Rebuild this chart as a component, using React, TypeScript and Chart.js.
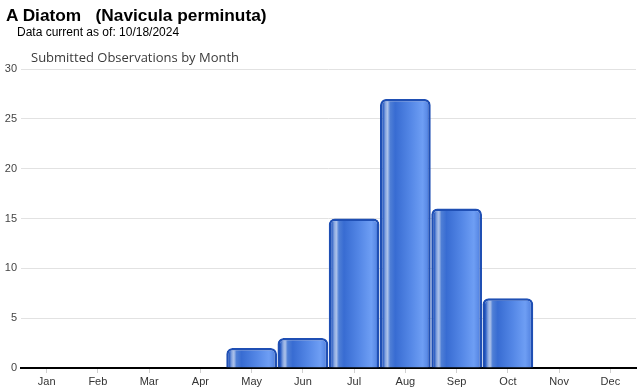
import React, { useEffect, useRef } from "react";
import { Chart, registerables } from "chart.js";

Chart.register(...registerables);

const months = ["Jan", "Feb", "Mar", "Apr", "May", "Jun", "Jul", "Aug", "Sep", "Oct", "Nov", "Dec"];
const observations = [0, 0, 0, 0, 2, 3, 15, 27, 16, 7, 0, 0];
const yTicks = [0, 5, 10, 15, 20, 25, 30];

const titleText = "A Diatom   (Navicula perminuta)";
const subtitleText = "Data current as of: 10/18/2024";
const chartTitleText = "Submitted Observations by Month";

const BAR_PCT = 0.99;

function barGradient(context: any) {
  const chart = context.chart;
  const xs = chart.scales && chart.scales.x;
  if (!xs || !chart.chartArea || context.dataIndex === undefined) return "#3d6fd2";
  const center = xs.getPixelForValue(context.dataIndex);
  const catW = (xs.right - xs.left) / months.length;
  const w = catW * BAR_PCT;
  const left = center - w / 2;
  const g = chart.ctx.createLinearGradient(left, 0, left + w, 0);
  g.addColorStop(0, "#1a4aac");
  g.addColorStop(0.06, "#2c5ec4");
  g.addColorStop(0.11, "#8aa8e0");
  g.addColorStop(0.15, "#aec3ea");
  g.addColorStop(0.2, "#4f7fd6");
  g.addColorStop(0.3, "#386cd2");
  g.addColorStop(0.6, "#5487e6");
  g.addColorStop(0.84, "#6e9ef4");
  g.addColorStop(0.93, "#5a8ae6");
  g.addColorStop(1, "#1a4aac");
  return g;
}

export default function App() {
  const ref = useRef<HTMLCanvasElement>(null);

  useEffect(() => {
    document.body.style.margin = "0";
    if (!ref.current) return;
    const chart = new Chart(ref.current, {
      type: "bar",
      data: {
        labels: months,
        datasets: [
          {
            data: observations,
            backgroundColor: barGradient as any,
            borderColor: "#1f4fb4",
            borderWidth: 2.5,
            borderRadius: 6,
            borderSkipped: "bottom",
            barPercentage: BAR_PCT,
            categoryPercentage: 1,
          },
        ],
      },
      options: {
        animation: false,
        responsive: false,
        maintainAspectRatio: false,
        layout: { padding: { top: 69, right: 4, left: 0, bottom: 0 } },
        plugins: {
          legend: { display: false },
          tooltip: { enabled: false },
          title: { display: false },
        },
        scales: {
          x: {
            offset: true,
            grid: {
              offset: false,
              drawOnChartArea: false,
              drawTicks: true,
              tickLength: 5,
              tickColor: "#d0d0d0",
            },
            border: { display: true, color: "#000", width: 2 },
            ticks: {
              color: "#333",
              font: { family: "Liberation Sans, Arial", size: 11 },
              padding: 2,
              maxRotation: 0,
              autoSkip: false,
            },
            afterFit: (s: any) => {
              s.height = 22;
            },
          },
          y: {
            min: 0,
            max: 30,
            afterBuildTicks: (s: any) => {
              s.ticks = yTicks.map((v) => ({ value: v }));
            },
            grid: { color: "#e2e2e2", drawTicks: false, lineWidth: 1 },
            border: { display: false },
            ticks: {
              color: "#444",
              font: { family: "Liberation Sans, Arial", size: 11 },
              padding: 4,
            },
            afterFit: (s: any) => {
              s.width = 21;
            },
          },
        },
      },
    });
    return () => chart.destroy();
  }, []);

  return (
    <div style={{ position: "relative", width: 640, height: 390, background: "#fff" }}>
      <canvas ref={ref} width={640} height={390} style={{ display: "block", position: "absolute", left: 0, top: 0 }} />
      <div
        style={{
          position: "absolute",
          left: 6,
          top: 5,
          font: "bold 17.3px 'Liberation Sans', Arial, sans-serif",
          color: "#000",
          whiteSpace: "pre",
          lineHeight: "20px",
        }}
      >
        {titleText}
      </div>
      <div
        style={{
          position: "absolute",
          left: 17,
          top: 25,
          font: "12px 'Liberation Sans', Arial, sans-serif",
          color: "#000",
          whiteSpace: "pre",
          lineHeight: "14px",
        }}
      >
        {subtitleText}
      </div>
      <div
        style={{
          position: "absolute",
          left: 31,
          top: 48,
          font: "13px 'Open Sans', sans-serif",
          color: "#3a3a3a",
          whiteSpace: "pre",
          lineHeight: "18px",
        }}
      >
        {chartTitleText}
      </div>
    </div>
  );
}
